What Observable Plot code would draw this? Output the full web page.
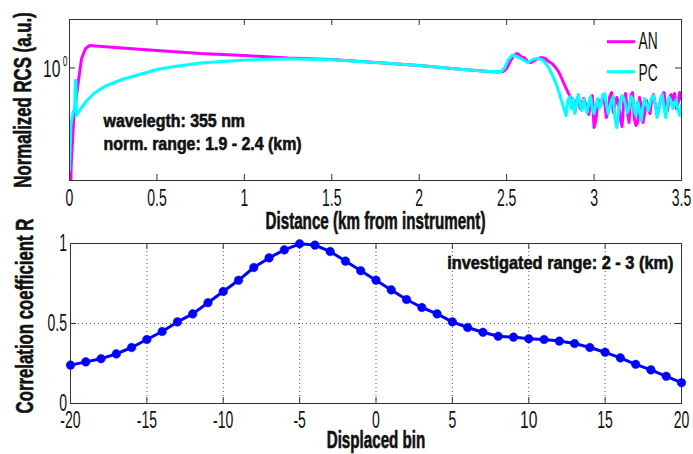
<!DOCTYPE html>
<html><head><meta charset="utf-8">
<script src="https://cdn.jsdelivr.net/npm/d3@7"></script>
<script src="https://cdn.jsdelivr.net/npm/@observablehq/plot@0.6"></script>
<style>
html,body{margin:0;padding:0;background:#fff;}
#wrap{position:relative;width:693px;height:454px;overflow:hidden;background:#fff;}
#wrap svg{position:absolute;left:0;top:0;}
</style></head><body><div id="wrap"></div>
<script>
// ---------- data ----------
const anDist = [0, 0.01, 0.025, 0.04, 0.053, 0.069, 0.092, 0.116, 0.15, 0.3, 0.5, 0.75, 1.0, 1.25, 1.5, 1.75, 2.0, 2.25, 2.4, 2.45, 2.48, 2.5, 2.52, 2.54, 2.56, 2.57, 2.59, 2.6, 2.62, 2.64, 2.66, 2.68, 2.7, 2.72, 2.74, 2.76, 2.78, 2.8, 2.82, 2.84, 2.86, 2.87,
  2.88, 2.89, 2.90, 2.91, 2.92, 2.93, 2.94, 2.95, 2.96, 2.97, 2.98, 2.99, 3.00, 3.01, 3.02, 3.03, 3.04, 3.05, 3.06, 3.07, 3.08, 3.09, 3.10, 3.11, 3.12, 3.13, 3.14, 3.15, 3.16, 3.17, 3.18, 3.19, 3.20, 3.21, 3.22, 3.23, 3.24, 3.25, 3.26, 3.27, 3.28, 3.29, 3.30, 3.31, 3.32, 3.33, 3.34, 3.35, 3.36, 3.37, 3.38, 3.39, 3.40, 3.41, 3.42, 3.43, 3.44, 3.45, 3.46, 3.47, 3.48, 3.49, 3.50];
const anRCS = [0.1, 0.25, 0.507, 0.674, 0.860, 1.145, 1.321, 1.379, 1.37, 1.33, 1.284, 1.230, 1.195, 1.153, 1.129, 1.081, 1.036, 0.978, 0.951, 0.944, 0.951, 0.992, 1.097, 1.195, 1.230, 1.212, 1.161, 1.161, 1.097, 1.081, 1.113, 1.145, 1.161, 1.145, 1.097, 1.066, 1.007, 0.937, 0.836, 0.746, 0.674, 0.646,
  0.585, 0.529, 0.628, 0.665, 0.560, 0.593, 0.646, 0.602, 0.544, 0.514,
  0.628, 0.674, 0.427, 0.472, 0.585, 0.628, 0.593, 0.665, 0.619, 0.492,
  0.544, 0.665, 0.704, 0.529, 0.593, 0.656, 0.602, 0.485, 0.433, 0.628,
  0.694, 0.544, 0.458, 0.674, 0.704, 0.485, 0.439, 0.458, 0.656, 0.585,
  0.458, 0.529, 0.628, 0.560, 0.521, 0.646, 0.684, 0.593, 0.529, 0.560,
  0.628, 0.674, 0.704, 0.576, 0.544, 0.646, 0.684, 0.628, 0.694, 0.560,
  0.602, 0.704, 0.637];
const pcDist = [0, 0.008, 0.02, 0.03, 0.033, 0.036, 0.04, 0.05, 0.065, 0.1, 0.14, 0.2, 0.3, 0.4, 0.5, 0.6, 0.75, 1.0, 1.25, 1.5, 1.75, 2.0, 2.25, 2.4, 2.47, 2.49, 2.51, 2.53, 2.55, 2.57, 2.6, 2.62, 2.64, 2.66, 2.68, 2.7, 2.72, 2.74, 2.76, 2.78, 2.8, 2.82, 2.84, 2.85, 2.86,
  2.87, 2.88, 2.89, 2.90, 2.91, 2.92, 2.93, 2.94, 2.95, 2.96, 2.97, 2.98, 2.99, 3.00, 3.01, 3.02, 3.03, 3.04, 3.05, 3.06, 3.07, 3.08, 3.09, 3.10, 3.11, 3.12, 3.13, 3.14, 3.15, 3.16, 3.17, 3.18, 3.19, 3.20, 3.21, 3.22, 3.23, 3.24, 3.25, 3.26, 3.27, 3.28, 3.29, 3.30, 3.31, 3.32, 3.33, 3.34, 3.35, 3.36, 3.37, 3.38, 3.39, 3.40, 3.41, 3.42, 3.43, 3.44, 3.45, 3.46, 3.47, 3.48, 3.49, 3.50];
const pcRCS = [0.231, 0.439, 0.529, 0.560, 0.836, 0.836, 0.507, 0.529, 0.560, 0.628, 0.694, 0.767, 0.848, 0.911, 0.978, 1.021, 1.073, 1.121, 1.139, 1.124, 1.081, 1.036, 0.978, 0.951, 0.951, 1.007, 1.129, 1.195, 1.187, 1.161, 1.113, 1.081, 1.113, 1.137, 1.145, 1.129, 1.081, 1.007, 0.911, 0.812, 0.704, 0.593, 0.507, 0.628, 0.665,
  0.560, 0.646, 0.521, 0.610, 0.684, 0.593, 0.544, 0.637, 0.576, 0.529,
  0.610, 0.665, 0.560, 0.521, 0.593, 0.646, 0.560, 0.593, 0.684, 0.694,
  0.602, 0.521, 0.576, 0.628, 0.665, 0.485, 0.427, 0.529, 0.628, 0.674,
  0.646, 0.593, 0.529, 0.560, 0.665, 0.646, 0.544, 0.507, 0.619, 0.544,
  0.472, 0.576, 0.646, 0.593, 0.544, 0.602, 0.656, 0.674, 0.593, 0.492,
  0.544, 0.646, 0.684, 0.560, 0.492, 0.593, 0.656, 0.628, 0.560, 0.593,
  0.637, 0.544, 0.507, 0.585];

const binShift = [-20, -19, -18, -17, -16, -15, -14, -13, -12, -11, -10, -9, -8, -7, -6, -5, -4, -3, -2, -1, 0, 1, 2, 3, 4, 5, 6, 7, 8, 9, 10, 11, 12, 13, 14, 15, 16, 17, 18, 19, 20];
const corrR = [0.24, 0.26, 0.28, 0.31, 0.35, 0.40, 0.45, 0.51, 0.56, 0.63,
  0.70, 0.77, 0.85, 0.91, 0.96, 0.998, 0.99, 0.95, 0.89, 0.83,
  0.77, 0.71, 0.65, 0.60, 0.56, 0.51, 0.475, 0.445, 0.42, 0.415,
  0.405, 0.40, 0.39, 0.375, 0.35, 0.32, 0.285, 0.245, 0.21, 0.17, 0.13];

const topXTicks = [0, 0.5, 1, 1.5, 2, 2.5, 3, 3.5];
const topYTicks = [1];
const botXTicks = [-20, -15, -10, -5, 0, 5, 10, 15, 20];
const botYTicks = [0, 0.5, 1];
const botGridX = [-15, -10, -5, 0, 5, 10, 15];
const botGridY = [0.5];
const legendNames = ["AN", "PC"];
const legendColors = ["#ff00ff", "#00ffff"];
const topXLabel = "Distance (km from instrument)";
const topYLabel = "Normalized RCS (a.u.)";
const botXLabel = "Displaced bin";
const botYLabel = "Correlation coefficient R";
const notesTop = ["wavelegth: 355 nm", "norm. range: 1.9 - 2.4 (km)"];
const noteBottom = "investigated range: 2 - 3 (km)";

// ---------- layout ----------
const W = 693, H = 454;
const FONT = "'Liberation Sans', Arial, Helvetica, sans-serif";
const FRAME = "#333";
const TICK_FS = 23;
const INK = "#111";
const heavy = {fontWeight: "bold", fill: INK, stroke: INK, strokeWidth: 0.6};
const baseStyle = {background: "transparent", fontFamily: FONT, color: INK, overflow: "visible"};

const an = anDist.map((d, i) => ({d, v: anRCS[i]}));
const pc = pcDist.map((d, i) => ({d, v: pcRCS[i]}));
const corr = binShift.map((b, i) => ({b, r: corrR[i]}));

function legendLines(index, scales, values, dims) {
  const ns = "http://www.w3.org/2000/svg";
  const g = document.createElementNS(ns, "g");
  const right = dims.width - dims.marginRight;
  legendColors.forEach((c, i) => {
    const l = document.createElementNS(ns, "line");
    l.setAttribute("x1", right - 74);
    l.setAttribute("x2", right - 46);
    l.setAttribute("y1", dims.marginTop + 22.7 + i * 30);
    l.setAttribute("y2", dims.marginTop + 22.7 + i * 30);
    l.setAttribute("stroke", c);
    l.setAttribute("stroke-width", 3);
    g.appendChild(l);
  });
  return g;
}

const topPlot = Plot.plot({
  width: W, height: H,
  marginLeft: 69, marginRight: 12, marginTop: 19, marginBottom: H - 180,
  style: baseStyle,
  x: {domain: [0, 3.5], axis: null},
  y: {type: "log", domain: [0.2, 2], axis: null},
  marks: [
    Plot.line(an, {x: "d", y: "v", stroke: legendColors[0], strokeWidth: 3, clip: true}),
    Plot.line(pc, {x: "d", y: "v", stroke: legendColors[1], strokeWidth: 3, clip: true}),
    Plot.frame({stroke: FRAME}),
    Plot.tickX(topXTicks.slice(1, -1), {x: d => d, insetTop: 155, stroke: FRAME}),
    Plot.tickX(topXTicks.slice(1, -1), {x: d => d, insetBottom: 155, stroke: FRAME}),
    Plot.tickY(topYTicks, {y: d => d, insetRight: 606, stroke: FRAME}),
    Plot.tickY(topYTicks, {y: d => d, insetLeft: 606, stroke: FRAME}),
    Plot.text(topXTicks, {x: d => d, text: d => String(d), frameAnchor: "bottom", dy: 18, textAnchor: "middle", lineAnchor: "middle", fontSize: TICK_FS}),
    Plot.text(topYTicks, {y: d => d, text: () => "10", frameAnchor: "left", textAnchor: "end", dx: -9, dy: 2, lineAnchor: "middle", fontSize: TICK_FS}),
    Plot.text(topYTicks, {y: d => d, text: () => "0", frameAnchor: "left", textAnchor: "end", dx: -2, dy: -6, lineAnchor: "middle", fontSize: 14}),
    Plot.text([topXLabel], {frameAnchor: "bottom", dy: 41, textAnchor: "middle", lineAnchor: "middle", fontSize: 23, ...heavy}),
    Plot.text([topYLabel], {frameAnchor: "left", dx: -45.5, rotate: -90, textAnchor: "middle", lineAnchor: "middle", fontSize: 23, ...heavy}),
    Plot.text([notesTop[0]], {frameAnchor: "top-left", dx: 34, dy: 101.5, textAnchor: "start", lineAnchor: "middle", fontSize: 17.5, ...heavy}),
    Plot.text([notesTop[1]], {frameAnchor: "top-left", dx: 34, dy: 125, textAnchor: "start", lineAnchor: "middle", fontSize: 17.5, ...heavy}),
    ...legendNames.map((n, i) => Plot.text([n], {frameAnchor: "top-right", dx: -43, dy: 22.5 + i * 32, textAnchor: "start", lineAnchor: "middle", fontSize: TICK_FS})),
    legendLines
  ]
});

const botPlot = Plot.plot({
  width: W, height: H,
  marginLeft: 70, marginRight: 12, marginTop: 243, marginBottom: H - 403,
  style: baseStyle,
  x: {domain: [-20, 20], axis: null},
  y: {domain: [0, 1], axis: null},
  marks: [
    Plot.ruleX(botGridX, {x: d => d, stroke: "#555", strokeDasharray: "1,3"}),
    Plot.ruleY(botGridY, {y: d => d, stroke: "#555", strokeDasharray: "1,3"}),
    Plot.frame({stroke: FRAME}),
    Plot.tickX(botXTicks.slice(1, -1), {x: d => d, insetTop: 154, stroke: FRAME}),
    Plot.tickX(botXTicks.slice(1, -1), {x: d => d, insetBottom: 154, stroke: FRAME}),
    Plot.tickY(botYTicks.slice(1, -1), {y: d => d, insetRight: 605, stroke: FRAME}),
    Plot.tickY(botYTicks.slice(1, -1), {y: d => d, insetLeft: 605, stroke: FRAME}),
    Plot.line(corr, {x: "b", y: "r", stroke: "#0000ff", strokeWidth: 3}),
    Plot.dot(corr, {x: "b", y: "r", r: 4.3, fill: "#0000ff", stroke: "#0000ff", strokeWidth: 0.5}),
    Plot.text(botXTicks, {x: d => d, text: d => String(d), frameAnchor: "bottom", dy: 17.5, textAnchor: "middle", lineAnchor: "middle", fontSize: TICK_FS}),
    Plot.text(botYTicks, {y: d => d, text: d => String(d), frameAnchor: "left", textAnchor: "end", dx: -3.5, lineAnchor: "middle", fontSize: TICK_FS}),
    Plot.text([botXLabel], {frameAnchor: "bottom", dy: 37, textAnchor: "middle", lineAnchor: "middle", fontSize: 23, ...heavy}),
    Plot.text([botYLabel], {frameAnchor: "left", dx: -45, dy: -7.5, rotate: -90, textAnchor: "middle", lineAnchor: "middle", fontSize: 23, ...heavy}),
    Plot.text([noteBottom], {frameAnchor: "top-right", dx: -8, dy: 20, textAnchor: "end", lineAnchor: "middle", fontSize: 18, ...heavy})
  ]
});

// condensed look of the original font: horizontal squeeze factor per text
const squeezeByText = new Map([
  [topXLabel, 0.66], [botXLabel, 0.66],
  [topYLabel, 0.73], [botYLabel, 0.73],
  [notesTop[0], 0.91], [notesTop[1], 0.91], [noteBottom, 0.91],
  [legendNames[0], 0.6], [legendNames[1], 0.6],
  ["10", 0.68]
]);
const TICK_SQUEEZE = 0.61;
function squeeze(svg) {
  svg.querySelectorAll("text").forEach(t => {
    const f = squeezeByText.get(t.textContent) ?? TICK_SQUEEZE;
    const tr = t.getAttribute("transform") || "";
    t.setAttribute("transform", `${tr} scale(${f},1)`);
  });
}
squeeze(topPlot);
squeeze(botPlot);
const wrap = document.getElementById("wrap");
wrap.append(topPlot, botPlot);
</script>
</body></html>
